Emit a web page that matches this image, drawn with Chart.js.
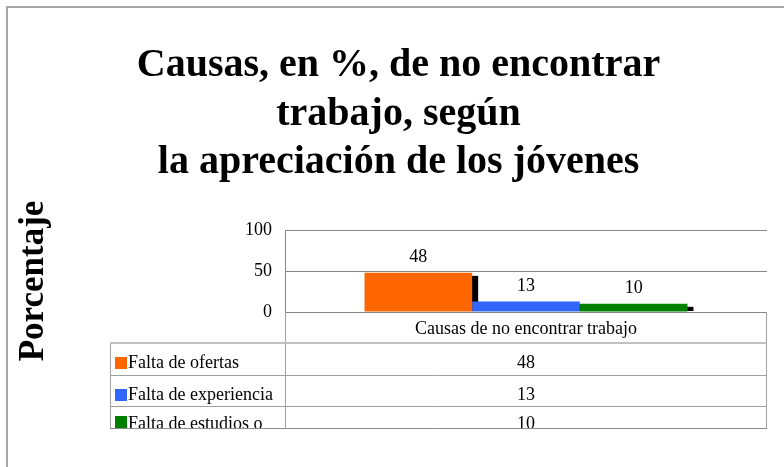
<!DOCTYPE html>
<html><head><meta charset="utf-8">
<script src="https://cdn.jsdelivr.net/npm/chart.js@4.4.1/dist/chart.umd.min.js"></script>
<style>html,body{margin:0;padding:0;background:#fff;overflow:hidden}canvas{display:block}</style>
</head><body>
<canvas id="c" width="784" height="467"></canvas>
<script>
// ---- data ----
const categories = ['Causas de no encontrar trabajo'];
const seriesNames = ['Falta de ofertas', 'Falta de experiencia', 'Falta de estudios o'];
const seriesOfertas = [48];
const seriesExperiencia = [13];
const seriesEstudios = [10];
const yTickValues = [0, 50, 100];
const titleLines = ['Causas, en %, de no encontrar', 'trabajo, según', 'la apreciación de los jóvenes'];
const yTitle = 'Porcentaje';

const seriesValues = [seriesOfertas, seriesExperiencia, seriesEstudios];
const seriesColors = ['#FF6600', '#3366FF', '#008000'];
const SERIF = "'Liberation Serif', 'Times New Roman', serif";
const SMALL = 18;

const frame = {
  id: 'frame',
  beforeDraw(chart) {
    const ctx = chart.ctx;
    ctx.save();
    ctx.fillStyle = '#fff';
    ctx.fillRect(0, 0, chart.width, chart.height);
    ctx.strokeStyle = '#a6a6a6';
    ctx.lineWidth = 2;
    ctx.beginPath();
    ctx.moveTo(7, chart.height); ctx.lineTo(7, 7); ctx.lineTo(chart.width, 7);
    ctx.stroke();
    ctx.restore();
  }
};

const shadows = {
  id: 'shadows',
  beforeDatasetsDraw(chart) {
    const ctx = chart.ctx, a = chart.chartArea;
    ctx.save();
    ctx.beginPath(); ctx.rect(a.left, a.top, a.right - a.left + 10, a.bottom - a.top - 1); ctx.clip();
    ctx.fillStyle = '#000';
    chart.data.datasets.forEach((ds, i) => {
      chart.getDatasetMeta(i).data.forEach(bar => {
        const w = bar.width;
        ctx.fillRect(bar.x + w / 2 - 6, bar.y + 3, 12, a.bottom - bar.y);
      });
    });
    ctx.restore();
  }
};

const labelsAndTable = {
  id: 'labelsAndTable',
  afterDatasetsDraw(chart) {
    const ctx = chart.ctx;
    ctx.save();
    ctx.font = SMALL + 'px ' + SERIF;
    ctx.fillStyle = '#000';
    ctx.textAlign = 'center';
    ctx.textBaseline = 'alphabetic';
    chart.data.datasets.forEach((ds, i) => {
      chart.getDatasetMeta(i).data.forEach((bar, j) => {
        ctx.fillText(String(ds.data[j]), bar.x, bar.y - 10.5);
      });
    });
    ctx.restore();
  },
  afterDraw(chart) {
    const ctx = chart.ctx, a = chart.chartArea;
    const legendLeft = 110;
    const headerBottom = a.bottom + 31;
    const rowTops = [headerBottom, headerBottom + 32, headerBottom + 63];
    const rowBottoms = [headerBottom + 32, headerBottom + 63, headerBottom + 85];
    const baseOff = [25, 25, 23];
    const sqOff = [14, 14, 10];
    const tableBottom = rowBottoms[2];
    ctx.save();
    ctx.strokeStyle = '#a0a0a0';
    ctx.lineWidth = 1;
    ctx.beginPath();
    ctx.moveTo(a.left + 0.5, a.bottom); ctx.lineTo(a.left + 0.5, tableBottom);
    ctx.moveTo(a.right - 0.5, a.bottom); ctx.lineTo(a.right - 0.5, tableBottom);
    ctx.moveTo(legendLeft + 0.5, headerBottom); ctx.lineTo(legendLeft + 0.5, tableBottom);
    ctx.moveTo(legendLeft, rowTops[1] + 0.5); ctx.lineTo(a.right, rowTops[1] + 0.5);
    ctx.moveTo(legendLeft, rowTops[2] + 0.5); ctx.lineTo(a.right, rowTops[2] + 0.5);
    ctx.stroke();
    ctx.strokeStyle = '#c0c0c0';
    ctx.lineWidth = 2;
    ctx.beginPath();
    ctx.moveTo(legendLeft, headerBottom); ctx.lineTo(a.right, headerBottom);
    ctx.stroke();
    ctx.strokeStyle = '#8c8c8c';
    ctx.lineWidth = 1;
    ctx.beginPath();
    ctx.moveTo(legendLeft, tableBottom + 0.5); ctx.lineTo(a.right, tableBottom + 0.5);
    ctx.stroke();

    const cx = chart.scales.x.getPixelForValue(0);
    ctx.font = SMALL + 'px ' + SERIF;
    chart.data.datasets.forEach((ds, i) => {
      ctx.save();
      ctx.beginPath();
      ctx.rect(legendLeft, rowTops[i], a.right - legendLeft, rowBottoms[i] - rowTops[i]);
      ctx.clip();
      ctx.fillStyle = ds.backgroundColor;
      ctx.fillRect(legendLeft + 5, rowTops[i] + sqOff[i], 12, 12);
      ctx.fillStyle = '#000';
      ctx.textAlign = 'left';
      ctx.fillText(ds.label, legendLeft + 18, rowTops[i] + baseOff[i]);
      ctx.textAlign = 'center';
      ctx.fillText(String(ds.data[0]), cx, rowTops[i] + baseOff[i]);
      ctx.restore();
    });

    // vertical axis title
    ctx.save();
    ctx.translate(34, 281);
    ctx.rotate(-Math.PI / 2);
    ctx.font = 'bold 35px ' + SERIF;
    ctx.fillStyle = '#000';
    ctx.textAlign = 'center';
    ctx.textBaseline = 'middle';
    ctx.fillText(yTitle, 0, 0);
    ctx.restore();
    ctx.restore();
  }
};

new Chart(document.getElementById('c'), {
  type: 'bar',
  data: {
    labels: categories,
    datasets: seriesNames.map((name, i) => ({
      label: name,
      data: seriesValues[i],
      backgroundColor: seriesColors[i],
      borderWidth: 0,
      categoryPercentage: 0.67,
      barPercentage: 1
    }))
  },
  options: {
    responsive: false,
    animation: false,
    devicePixelRatio: 1,
    layout: { padding: { left: 30, right: 17, top: 0, bottom: 39 } },
    plugins: {
      legend: { display: false },
      tooltip: { enabled: false },
      title: {
        display: true,
        text: titleLines,
        color: '#000',
        font: { family: SERIF, size: 40, weight: 'bold', lineHeight: 1.22 },
        padding: { top: 41, bottom: 43 }
      }
    },
    scales: {
      x: {
        grid: { display: false, drawTicks: false },
        border: { display: false },
        ticks: { color: '#000', font: { family: SERIF, size: SMALL }, padding: 6 },
        afterFit: s => { s.height = 116; }
      },
      y: {
        min: 0, max: 100,
        afterBuildTicks: s => { s.ticks = yTickValues.map(v => ({ value: v })); },
        grid: { color: '#868686', lineWidth: 1, drawTicks: false },
        border: { display: true, color: '#868686' },
        ticks: { color: '#000', font: { family: SERIF, size: SMALL }, padding: 13 },
        afterFit: s => { s.width = 255; }
      }
    }
  },
  plugins: [frame, shadows, labelsAndTable]
});
</script>
</body></html>
